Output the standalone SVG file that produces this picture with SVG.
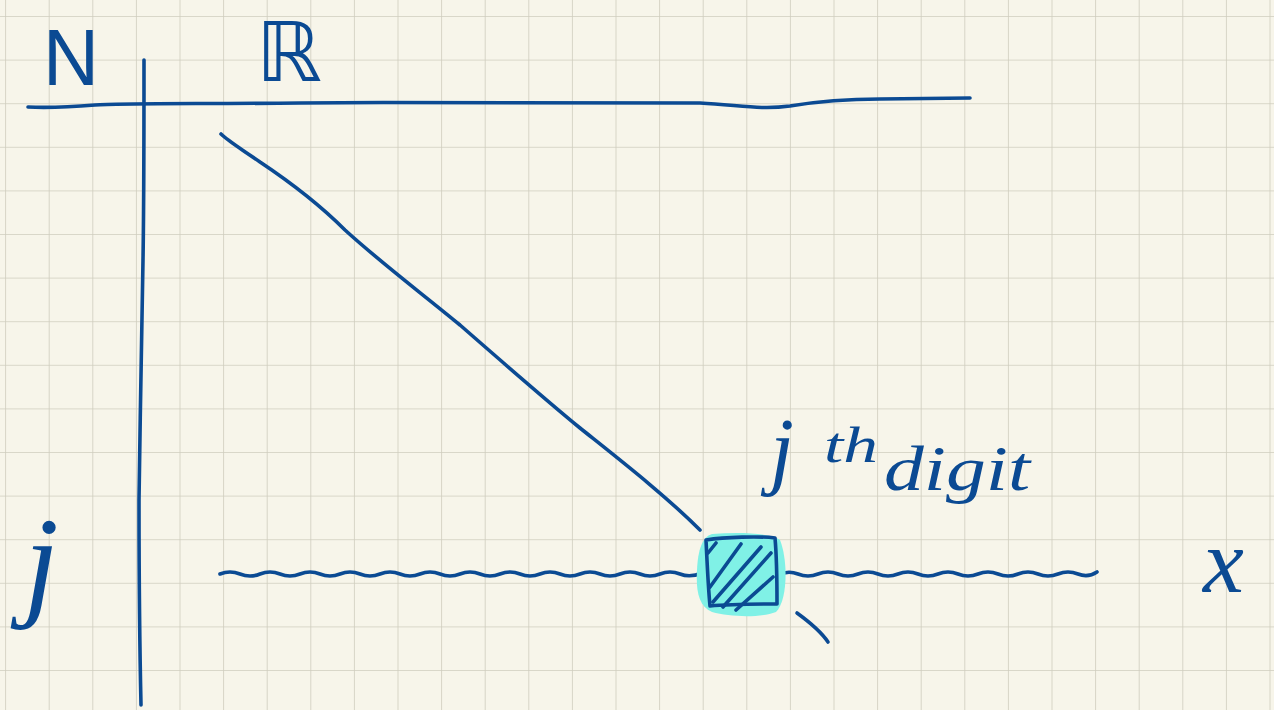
<svg xmlns="http://www.w3.org/2000/svg" width="1274" height="710" viewBox="0 0 1274 710">
<defs>
<pattern id="grid" x="5.1" y="16" width="43.6" height="43.6" patternUnits="userSpaceOnUse">
<path d="M0,0 H43.6 M0,0 V43.6" fill="none" stroke="#cfcdbe" stroke-width="1.6"/>
</pattern>
<style>
.ink{fill:none;stroke:#0b4a93;stroke-width:3.6;stroke-linecap:round;stroke-linejoin:round}
.lbl{fill:#0b4a93;font-family:"Liberation Serif",serif;font-style:italic}
.lbls{fill:#0b4a93;font-family:"Liberation Sans",sans-serif}
</style>
</defs>
<rect width="1274" height="710" fill="#f7f5ea"/>
<rect width="1274" height="710" fill="url(#grid)"/>
<g id="axes">
<path class="ink" d="M28,107 C50,108 70,107 95,105 C120,103 200,104 300,103 C450,102 620,102 700,103 C740,105 760,110 790,106 C820,101 850,99 880,99 L970,98"/>
<path class="ink" d="M144,60 C144,120 144,200 143,260 C142,330 140,420 139,500 C139,600 140,660 141,705"/>
</g>
<g id="label-N"><text class="lbls" x="43" y="85" font-size="80" textLength="56" lengthAdjust="spacingAndGlyphs">N</text></g>
<g id="label-R"><text x="256" y="81" font-size="82" fill="#0b4a93" font-family="DejaVu Sans, sans-serif" textLength="66" lengthAdjust="spacingAndGlyphs">ℝ</text></g>
<g id="label-j"><text class="lbl" x="24" y="603" font-size="125">j</text></g>
<g id="label-x"><text class="lbl" x="1203" y="592" font-size="92">x</text></g>
<g id="connectors">
<path class="ink" d="M221,134 C228,141 240,148 260,162 C290,182 320,205 345,230 C380,262 420,292 460,325 C500,360 540,395 580,428 C620,460 665,495 700,530"/>
<path class="ink" d="M220,574 Q230,570 240,574 T260,574 T280,574 T300,574 T320,574 T340,574 T360,574 T380,574 T400,574 T420,574 T440,574 T460,574 T480,574 T500,574 T520,574 T540,574 T560,574 T580,574 T600,574 T620,574 T640,574 T660,574 T680,574 T702,573"/>
<path class="ink" d="M778,575 Q788,570 798,574 T818,574 T838,574 T858,574 T878,574 T898,574 T918,574 T938,574 T958,574 T978,574 T998,574 T1018,574 T1038,574 T1058,574 T1078,574 T1097,572"/>
<path class="ink" d="M797,613 C808,621 820,630 828,642"/>
</g>
<g id="digit-cell">
<path d="M712,534 C740,532 770,533 780,540 C788,560 788,600 776,612 C760,618 730,617 712,612 C698,606 696,590 697,570 C698,550 702,537 712,534 Z" fill="#80f1e6"/>
<path class="ink" d="M706,540 C725,537 760,536 775,538 C777,560 777,585 777,604 C755,604 730,604 710,606 C708,585 707,560 706,540 Z"/>
<path class="ink" stroke-width="4" d="M708,553 L716,543 M710,587 L741,544 M713,602 L761,547 M723,607 L771,553 M736,610 L773,577"/>
</g>
<g id="label-jth-digit">
<text class="lbl" x="770" y="478" font-size="86">j</text>
<text class="lbl" x="824" y="462" font-size="50" textLength="54" lengthAdjust="spacingAndGlyphs">th</text>
<text class="lbl" x="884" y="490" font-size="64" textLength="146" lengthAdjust="spacingAndGlyphs">digit</text>
</g>
</svg>
